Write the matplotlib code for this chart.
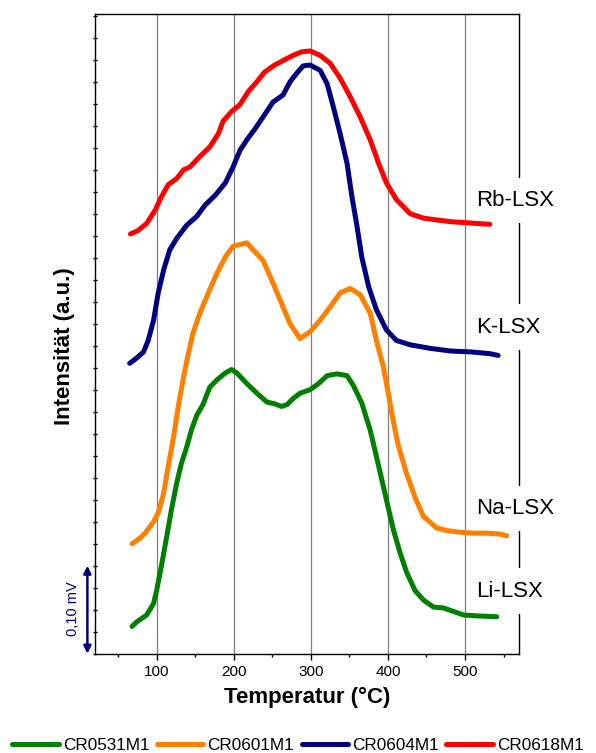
import matplotlib
matplotlib.use("Agg")
import matplotlib.pyplot as plt
from matplotlib.ticker import MultipleLocator
import matplotlib.transforms as mtransforms

plt.rcParams["font.family"] = ["Liberation Sans", "DejaVu Sans"]

# TPD traces, temperature in °C, signal in mV
li_T = [68, 74, 87, 96, 100, 106, 113, 119, 126, 132, 139, 145, 152, 160, 169, 178,
        189, 197, 204, 217, 230, 243, 253, 262, 269, 277, 286, 299, 310, 321, 334, 347,
        355, 366, 377, 388, 398, 407, 416, 424, 435, 446, 459, 472, 485, 498, 515, 541]
li_y = [0.031, 0.036, 0.044, 0.057, 0.072, 0.099, 0.133, 0.163, 0.194, 0.216, 0.235,
        0.254, 0.271, 0.283, 0.303, 0.311, 0.319, 0.323, 0.319, 0.307, 0.296, 0.286,
        0.284, 0.281, 0.283, 0.290, 0.296, 0.300, 0.307, 0.316, 0.318, 0.316, 0.305,
        0.285, 0.254, 0.213, 0.175, 0.141, 0.114, 0.093, 0.072, 0.061, 0.053, 0.052,
        0.048, 0.044, 0.043, 0.042]

na_T = [68, 78, 85, 96, 102, 109, 115, 122, 128, 135, 141, 147, 156, 167, 178, 189,
        199, 217, 225, 238, 251, 262, 273, 286, 299, 312, 325, 338, 351, 364, 377, 385,
        394, 400, 407, 413, 424, 435, 446, 463, 476, 494, 511, 528, 545, 554]
na_y = [0.125, 0.131, 0.137, 0.150, 0.160, 0.182, 0.213, 0.247, 0.281, 0.315, 0.341,
        0.364, 0.387, 0.410, 0.432, 0.451, 0.463, 0.467, 0.459, 0.447, 0.421, 0.398,
        0.375, 0.358, 0.366, 0.379, 0.394, 0.410, 0.415, 0.408, 0.387, 0.356, 0.326,
        0.298, 0.264, 0.238, 0.205, 0.178, 0.156, 0.143, 0.140, 0.138, 0.137, 0.137,
        0.136, 0.134]

k_T = [65, 74, 83, 89, 96, 102, 109, 117, 126, 139, 152, 163, 176, 189, 199, 208, 217,
       228, 238, 251, 264, 273, 282, 290, 299, 312, 321, 329, 338, 347, 353, 360, 366,
       375, 385, 398, 411, 429, 455, 481, 507, 532, 543]
k_y = [0.330, 0.336, 0.343, 0.356, 0.379, 0.410, 0.436, 0.459, 0.472, 0.487, 0.497,
       0.510, 0.521, 0.535, 0.553, 0.572, 0.584, 0.597, 0.610, 0.627, 0.635, 0.650,
       0.660, 0.668, 0.669, 0.663, 0.648, 0.622, 0.591, 0.557, 0.521, 0.485, 0.451,
       0.417, 0.391, 0.368, 0.356, 0.351, 0.347, 0.344, 0.343, 0.341, 0.339]

rb_T = [66, 76, 87, 98, 106, 115, 126, 135, 143, 156, 169, 180, 186, 197, 208, 219, 230,
        240, 253, 266, 277, 288, 299, 312, 325, 338, 351, 364, 377, 388, 398, 411, 429,
        446, 463, 481, 498, 515, 532]
rb_y = [0.477, 0.481, 0.489, 0.504, 0.519, 0.533, 0.540, 0.550, 0.553, 0.565, 0.576,
        0.591, 0.605, 0.616, 0.624, 0.639, 0.650, 0.661, 0.669, 0.675, 0.680, 0.684,
        0.685, 0.680, 0.671, 0.654, 0.633, 0.610, 0.584, 0.557, 0.535, 0.516, 0.500,
        0.495, 0.493, 0.491, 0.490, 0.489, 0.488]

series = [("CR0531M1", li_T, li_y, "#008000"),
          ("CR0601M1", na_T, na_y, "#ff8000"),
          ("CR0604M1", k_T, k_y, "#000080"),
          ("CR0618M1", rb_T, rb_y, "#ff0000")]

sample_names = ["Rb-LSX", "K-LSX", "Na-LSX", "Li-LSX"]
name_T = [515, 515, 515, 515]
name_y = [0.515, 0.371, 0.165, 0.071]

fig = plt.figure(figsize=(5.96, 7.53), dpi=100)
ax = fig.add_axes([95 / 596, 1 - 653.7 / 753, 424 / 596, 639.7 / 753])

for label, T, y, c in series:
    ax.plot(T, y, color=c, lw=3.6, label=label, solid_capstyle="round",
            solid_joinstyle="round", zorder=2)

ax.set_xlim(20, 570)
ax.set_ylim(0, 0.727)
ax.xaxis.set_minor_locator(MultipleLocator(50))
ax.yaxis.set_major_locator(MultipleLocator(0.025))
ax.set_xticks([100, 200, 300, 400, 500])
ax.tick_params(axis="x", which="major", direction="out", length=4, width=1, labelsize=11, pad=4)
ax.tick_params(axis="x", which="minor", direction="out", length=2.5, width=1)
ax.tick_params(axis="y", which="major", direction="inout", length=3, width=1, labelleft=False)
ax.grid(axis="x", which="major", color="#7f7f7f", lw=0.9, zorder=1)
ax.set_axisbelow(True)
for s in ax.spines.values():
    s.set_linewidth(1.0)

# sample names sit in gaps cut into the right frame line
tr = mtransforms.blended_transform_factory(ax.transAxes, ax.transData)
for name, T, y in zip(sample_names, name_T, name_y):
    ax.plot([1, 1], [y - 0.026, y + 0.026], transform=tr, color="white", lw=3,
            clip_on=False, zorder=4, solid_capstyle="butt")
    ax.text(T, y, name, fontsize=16, ha="left", va="center", zorder=5)

ax.set_xlabel("Temperatur (°C)", fontsize=16, fontweight="bold")
ax.xaxis.set_label_coords(0.5, -0.052)
ax.set_ylabel("Intensität (a.u.)", fontsize=16, fontweight="bold")
ax.yaxis.set_label_coords(-0.047, 0.481)

# 0,10 mV scale bar left of the axis
ax.annotate("", xy=(-0.018, 0.0), xytext=(-0.018, 0.10), xycoords=tr, textcoords=tr,
            arrowprops=dict(arrowstyle="<|-|>", color="#000080", lw=1.8,
                            mutation_scale=11, shrinkA=0, shrinkB=0),
            annotation_clip=False)
ax.text(-0.052, 0.051, "0,10 mV", transform=tr, rotation=90, color="#000080",
        fontsize=10.5, ha="center", va="center")

fig.legend(loc="lower center", bbox_to_anchor=(0.5, -0.004), ncol=4, frameon=False,
           fontsize=12.3, handlelength=2.7, handletextpad=0.25, columnspacing=0.45,
           borderaxespad=0, borderpad=0.2)

fig.savefig("out.png", dpi=100, facecolor="white")
